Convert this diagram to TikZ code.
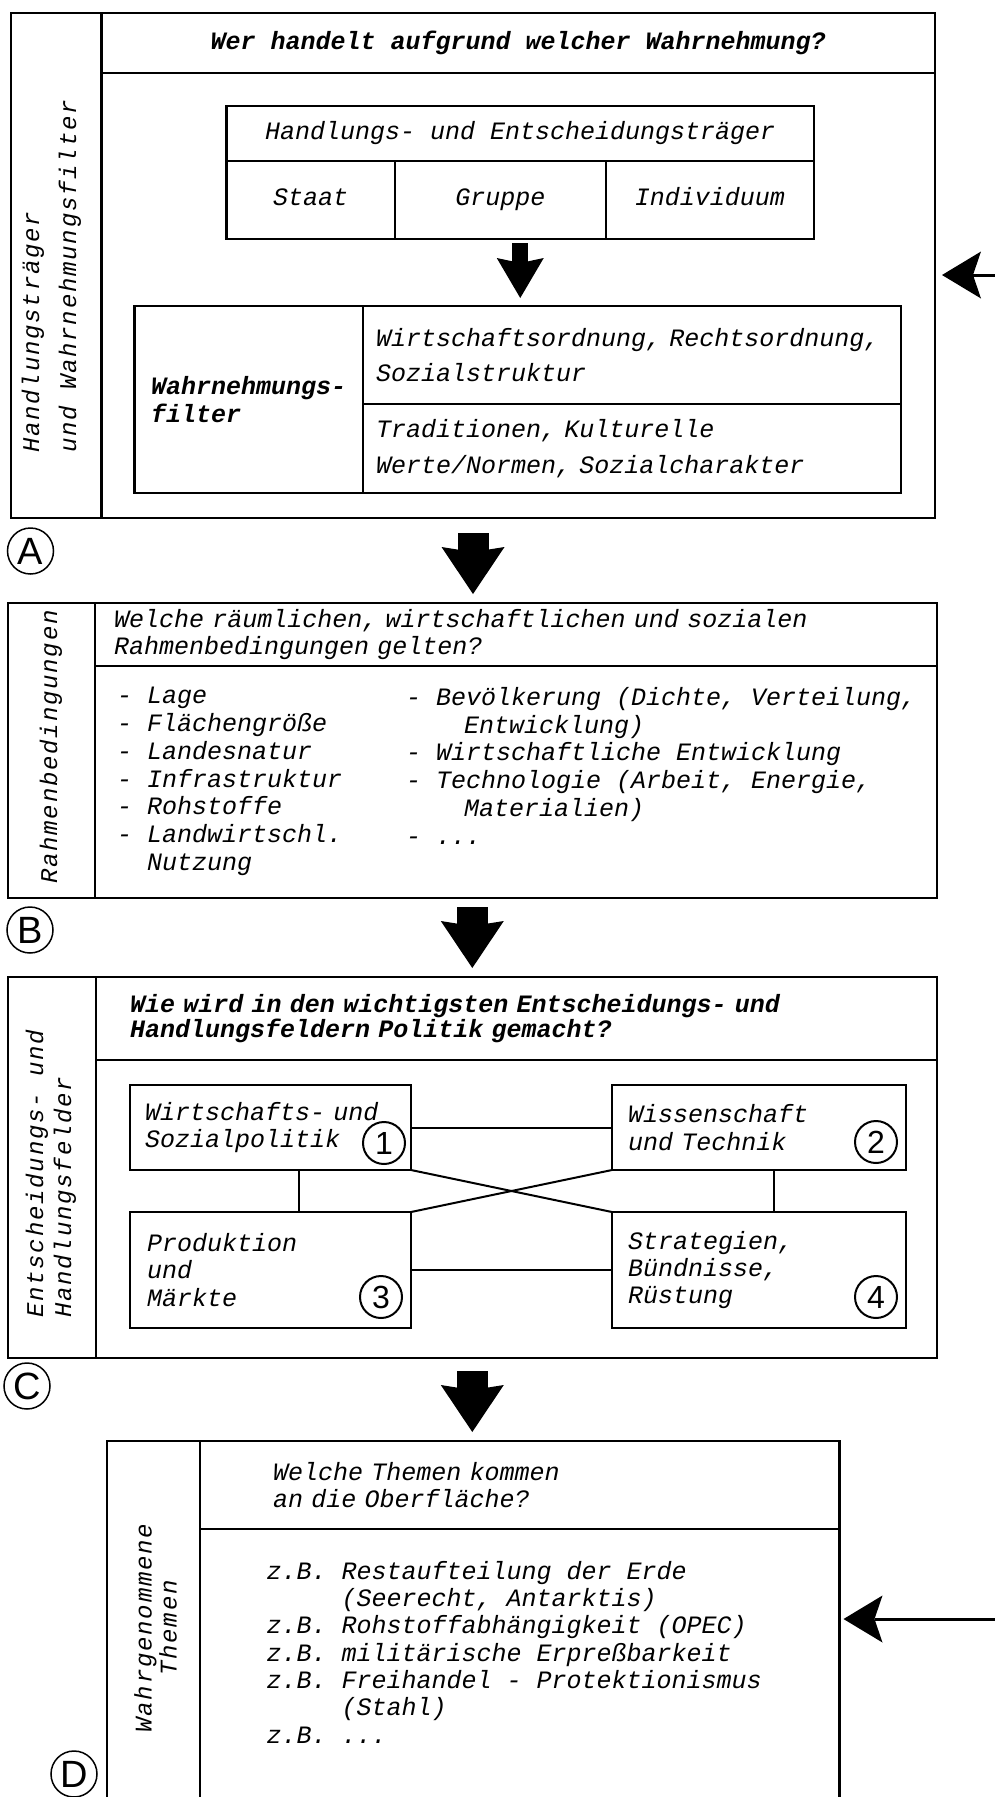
\documentclass[tikz,border=0pt]{standalone}
\usepackage{fontspec}
\newfontfamily\typefam[WordSpace={1,0,0}]{Liberation Mono}
\newfontfamily\stripfam[WordSpace={1,0,0},LetterSpace=7.5]{Liberation Mono}
\newfontfamily\markfam{Liberation Sans}
\usetikzlibrary{arrows.meta,calc}
\newcommand\typeat[1]{\typefam\itshape\fontsize{25}{#1}\selectfont\frenchspacing}
\newcommand\stripat[1]{\stripfam\itshape\fontsize{24}{#1}\selectfont\frenchspacing}
\begin{document}
\begin{tikzpicture}
[x=1pt,y=1pt,
  cell/.style={draw,line width=2.2pt,inner sep=0pt,outer sep=0pt},%
  celltext/.style={font=\typeat{27.3},align=left},%
  oneline/.style={text height=17pt,text depth=5pt},%
  striplabel/.style={rotate=90,inner sep=0pt,align=left},%
  link/.style={line width=2pt},%
  bigarrow/.style={line width=31pt,-{Stealth[length=47pt,width=63pt,inset=5pt,line width=0pt]}},%
  smallarrow/.style={line width=16pt,-{Stealth[length=40pt,width=47pt,inset=5pt,line width=0pt]}},%
  feedarrow/.style={line width=3pt,-{Stealth[length=39pt,width=47pt,inset=8pt,line width=0pt]}},%
  stepmark/.style={draw,circle,line width=1.5pt,inner sep=0pt,minimum size=46pt,font=\markfam\fontsize{38}{38}\selectfont},%
  fieldmark/.style={draw,circle,line width=2pt,inner sep=0pt,minimum size=42pt,font=\markfam\fontsize{32}{32}\selectfont}]
\useasboundingbox (0,0) rectangle (995,-1797);
%% block A
\node[cell,minimum width=90.5pt,minimum height=505pt] (stripA) at (56.25,-265.5) {};
\node[striplabel,font=\stripat{37},anchor=west] (labelA) at (51.5,-453) {Handlungsträger\\und Wahrnehmungsfilter};
\node[cell,minimum width=833.5pt,minimum height=60pt,celltext,oneline,font={\typeat{27.3}\bfseries}] (titleA) at (518.25,-43) {Wer handelt aufgrund welcher Wahrnehmung?};
\node[cell,minimum width=833.5pt,minimum height=445pt] (bodyA) at (518.25,-295.5) {};
\node[cell,minimum width=587.5pt,minimum height=54.7pt,celltext,oneline] (carrier) at (520.25,-133.35) {Handlungs- und Entscheidungsträger};
\node[cell,minimum width=168.2pt,minimum height=78.3pt,celltext,oneline,anchor=north west] (staat) at (carrier.south west) {Staat};
\node[cell,minimum width=211.3pt,minimum height=78.3pt,celltext,oneline,anchor=north west] (gruppe) at (staat.north east) {Gruppe};
\node[cell,minimum width=208pt,minimum height=78.3pt,celltext,oneline,anchor=north west] (indiv) at (gruppe.north east) {Individuum};
\node[cell,minimum width=228.5pt,minimum height=187pt,celltext,font={\typeat{28}\bfseries}] (filterL) at (248.75,-399.5) {Wahrnehmungs-\\filter};
\node[cell,minimum width=538pt,minimum height=98pt,celltext,font=\typeat{35},text width=512pt] (filterR1) at (632,-355) {Wirtschaftsordnung, Rechtsordnung,\\Sozialstruktur};
\node[cell,minimum width=538pt,minimum height=89pt,celltext,font=\typeat{36},text width=512pt] (filterR2) at (632,-448.5) {Traditionen, Kulturelle\\Werte/Normen, Sozialcharakter};
\draw[smallarrow] ($(carrier.south |- staat.south)+(0,-4)$) -- ($(carrier.south |- filterL.north)+(0,8)$);
\node[stepmark] (markA) at (30.5,-551) {A};
%% block B
\node[cell,minimum width=87.4pt,minimum height=295pt] (stripB) at (51.3,-750.5) {};
\node[striplabel,font=\stripat{27}] (labelB) at (51,-747) {Rahmenbedingungen};
\node[cell,minimum width=842pt,minimum height=63pt,celltext,text width=804pt] (titleB) at (516,-634.5) {Welche räumlichen, wirtschaftlichen und sozialen\\Rahmenbedingungen gelten?};
\node[cell,minimum width=842pt,minimum height=232pt] (bodyB) at (516,-782) {};
\node[celltext,font=\typeat{27.8},inner sep=0pt,anchor=north west] (listL) at (117,-687) {- Lage\\- Flächengröße\\- Landesnatur\\- Infrastruktur\\- Rohstoffe\\- Landwirtschl.\\\hspace*{30pt}Nutzung};
\node[celltext,font=\typeat{27.8},inner sep=0pt,anchor=north west] (listR) at (406,-687) {- Bevölkerung (Dichte, Verteilung,\\\hspace*{58pt}Entwicklung)\\- Wirtschaftliche Entwicklung\\- Technologie (Arbeit, Energie,\\\hspace*{58pt}Materialien)\\- ...};
\node[stepmark] (markB) at (30,-930) {B};
%% block C
\node[cell,minimum width=88.4pt,minimum height=381pt] (stripC) at (51.8,-1167.5) {};
\node[striplabel,font=\stripat{28},anchor=west] (labelC) at (51,-1318) {Entscheidungs- und\\Handlungsfelder};
\node[cell,minimum width=841pt,minimum height=83pt,celltext,font={\typeat{25}\bfseries},text width=773pt] (titleC) at (516.5,-1018.5) {Wie wird in den wichtigsten Entscheidungs- und\\Handlungsfeldern Politik gemacht?};
\node[cell,minimum width=841pt,minimum height=298pt] (bodyC) at (516.5,-1209) {};
\node[cell,minimum width=281pt,minimum height=85pt,celltext,text width=251pt] (econ) at (270.5,-1127.5) {Wirtschafts- und\\Sozialpolitik};
\node[cell,minimum width=294pt,minimum height=85pt,celltext,text width=262pt] (science) at (759,-1127.5) {Wissenschaft\\und Technik};
\node[cell,minimum width=281pt,minimum height=116pt,celltext,text width=247pt] (market) at (270.5,-1270) {Produktion\\und\\Märkte};
\node[cell,minimum width=294pt,minimum height=116pt,celltext,text width=262pt] (strategy) at (759,-1270) {Strategien,\\Bündnisse,\\Rüstung};
\node[fieldmark] (markOne) at (384,-1143) {1};
\node[fieldmark] (markTwo) at (876,-1142) {2};
\node[fieldmark] (markThree) at (381,-1297) {3};
\node[fieldmark] (markFour) at (876,-1297) {4};
%% links between the fields
\coordinate (econfoot) at ($(econ.south west)!0.6!(econ.south east)$);
\coordinate (scifoot) at ($(science.south west)!0.55!(science.south east)$);
\path
\foreach \startnode/\endnode in {econ.east/science.west, market.east/strategy.west,
  econfoot/econfoot |- market.north, scifoot/scifoot |- strategy.north,
  econ.south east/strategy.north west, science.south west/market.north east} {
  (\startnode) edge[link] (\endnode)
};
\node[stepmark] (markC) at (27,-1386) {C};
%% block D
\node[cell,minimum width=93pt,minimum height=369pt] (stripD) at (153.5,-1625.5) {};
\node[striplabel,font=\stripat{25},align=center] (labelD) at (155.5,-1628) {Wahrgenommene\\Themen};
\node[cell,minimum width=639.5pt,minimum height=88pt,celltext,text width=493.5pt] (titleD) at (519.75,-1485) {Welche Themen kommen\\an die Oberfläche?};
\node[cell,minimum width=639.5pt,minimum height=281pt] (bodyD) at (519.75,-1669.5) {};
\node[celltext,inner sep=0pt,anchor=north west] (listD) at (266.5,-1561) {z.B. Restaufteilung der Erde\\\hspace*{75pt}(Seerecht, Antarktis)\\z.B. Rohstoffabhängigkeit (OPEC)\\z.B. militärische Erpreßbarkeit\\z.B. Freihandel - Protektionismus\\\hspace*{75pt}(Stahl)\\z.B. ...};
\node[stepmark] (markD) at (74,-1774) {D};
%% arrows between the blocks
\coordinate (outA) at ($(stripA.south west)!0.5!(bodyA.south east)$);
\coordinate (outB) at ($(stripB.south west)!0.5!(bodyB.south east)$);
\coordinate (outC) at ($(stripC.south west)!0.5!(bodyC.south east)$);
\draw[bigarrow] ($(outA)+(0,-15)$) -- ($(outA |- titleB.north)+(0,9)$);
\draw[bigarrow] ($(outB)+(0,-9)$) -- ($(outB |- titleC.north)+(0,9)$);
\draw[bigarrow] ($(outC)+(0,-13)$) -- ($(outC |- titleD.north)+(0,9)$);
%% feedback arrows from the right
\coordinate (feedA) at (1000,-275);
\coordinate (feedD) at (1000,-1619);
\draw[feedarrow] (feedA) -- ($(feedA -| bodyA.east)+(7,0)$);
\draw[feedarrow] (feedD) -- ($(feedD -| bodyD.east)+(4,0)$);
\end{tikzpicture}
\end{document}
